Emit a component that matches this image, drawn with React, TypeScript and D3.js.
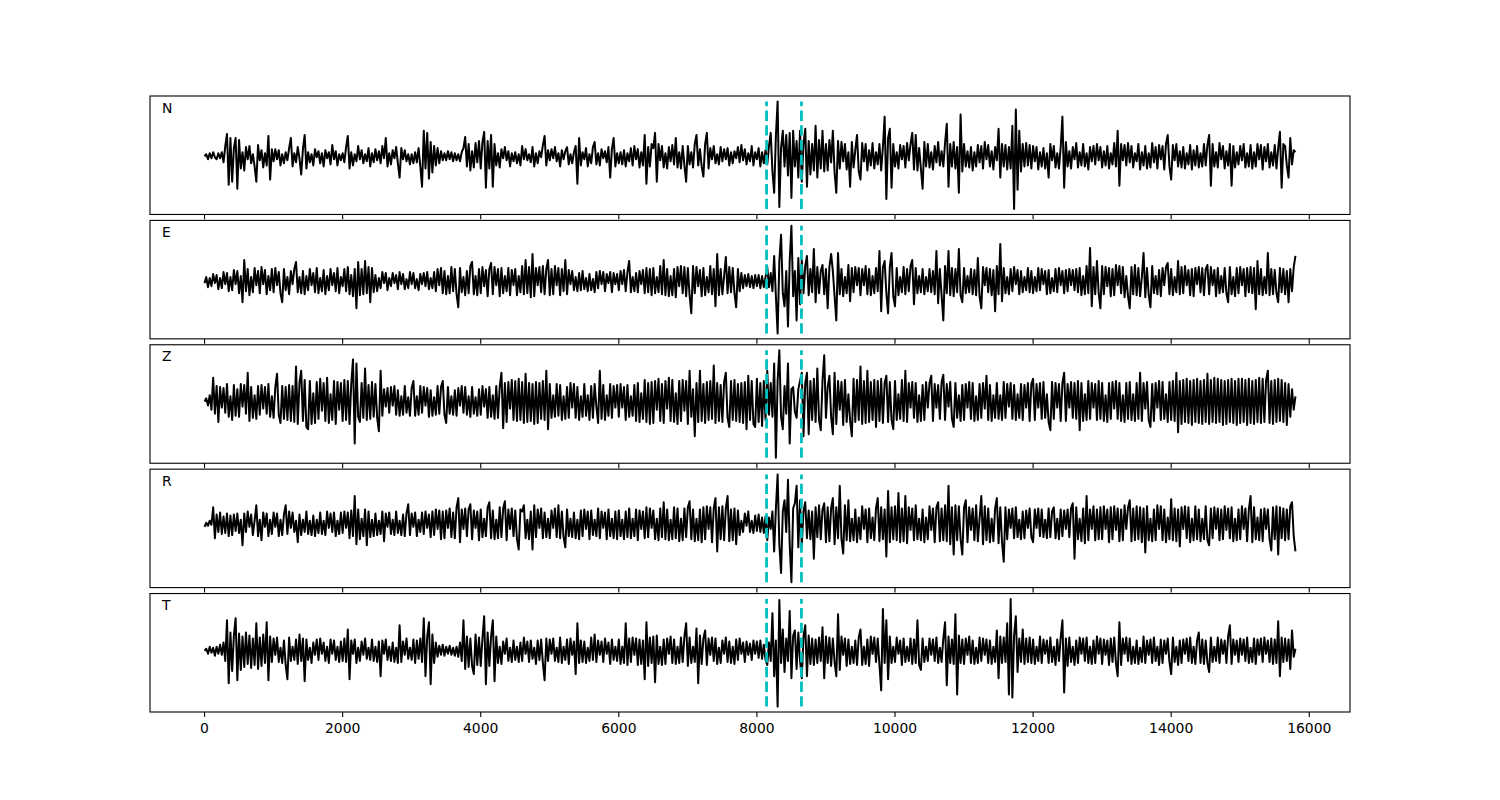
import React from "react";
import * as d3 from "d3";

// three-component seismogram, rotated to R/T as well
const components = ["N", "E", "Z", "R", "T"];
const tEnd = 15800;
const picks = [8140, 8645];
const xTicks = [0, 2000, 4000, 6000, 8000, 10000, 12000, 14000, 16000];

// amplitudes, one sample every 25 units (0 .. 15800)
const traceN = [
  0, 2, -3, 3, -2, 4, -1, -3, 3, -2, 4, -6, 10, 22, -28, 18, -25, 8, 18, -32,
  16, -12, 4, -14, 9, -3, 10, -7, 2, -10, -25, 11, -4, 6, -11, 3, -9, 20, -23, 7,
  -5, 7, -3, 6, -9, 2, -7, 4, -4, 8, 18, -10, 3, -6, 9, -2, -18, 7, 21, -12,
  4, -6, 2, -9, 7, -1, 5, -7, 3, -10, 6, -2, 4, -8, 11, -3, 5, -9, 2, -4,
  3, -6, 9, 20, -12, 4, -9, 2, -5, 10, -3, 6, -7, 2, -5, 8, -10, 3, -6, 7,
  -4, 5, -7, 10, -2, 18, -10, 3, -8, 6, -2, 9, -7, -21, 8, -3, 6, -5, 2, -8,
  2, -7, 4, -6, 8, -10, -30, 25, -12, 23, -22, 14, -16, 10, -9, 8, -7, 5, -4, 3,
  -4, 5, -3, 4, -5, 3, -4, 2, -5, 4, 8, 19, -10, 12, -14, 5, -11, 13, -6, 15,
  -12, 14, 24, -31, 15, -12, 21, -30, 12, -9, 3, -11, 7, -2, 9, -4, 5, -10, 3, -5,
  4, -7, 2, -9, 10, -3, 7, -4, 2, -6, 9, -10, 3, -7, 5, -1, 11, 20, -9, 6,
  -4, 7, -2, 9, -5, 3, -10, 6, -3, 5, 9, -8, 2, -7, 4, 10, -27, 18, -9, 4,
  -3, 8, -10, 2, -7, 9, 14, -8, 3, -9, 7, -2, 5, -6, 9, -21, 7, 18, -10, 3,
  -7, 4, -8, 6, -10, 3, -5, 8, -9, 10, -3, 7, -11, 4, -9, 21, -27, 9, -10, 12,
  8, 23, -25, 12, -4, 10, -11, 3, -12, 9, -5, 11, -8, 18, -11, 4, -12, 10, -9, -25,
  10, -8, 4, -11, 12, 21, -9, 7, -10, -20, 12, 23, -12, 8, -3, 10, -7, 2, -8, 9,
  -5, 7, -3, 8, -9, 4, -7, 5, -2, 9, -6, 11, -4, 7, -8, 3, -5, 10, -9, 4,
  -3, 8, -10, 4, -7, 6, -8, 10, 23, -15, -36, 20, 54, -50, 8, 25, -10, 21, -19, 23,
  -41, 25, -10, 15, -21, 25, -25, 12, 27, -30, 15, -18, 12, -14, 30, -21, 16, -12, 25, -15,
  12, -14, 16, -6, 25, -16, -36, 15, -12, 14, -5, 12, -13, 4, -30, 14, -11, 6, 21, -15,
  -23, 13, -5, 12, -14, 6, -9, 13, -12, 4, -8, 12, -14, 9, 39, -42, 18, 27, -31, 12,
  -10, 4, -12, 11, -3, 10, -11, 13, -4, 12, 23, -13, 21, -14, 8, -12, -32, 14, -10, 12,
  -11, 4, -13, 10, -6, 14, -9, 5, -10, 13, 32, -30, 12, -10, 14, -12, 9, -36, 41, -15,
  12, -10, 5, -11, 9, -14, 4, -10, 11, -6, 10, -12, 14, -3, 11, -10, 5, -13, 9, -4,
  27, -21, 12, -10, 11, -13, 9, -12, 30, -52, 46, -33, 25, -15, 12, -10, 13, -9, 11, -12,
  10, -5, 9, -13, 4, -10, 8, -12, 3, -21, 12, -4, 10, -11, 3, -12, 9, 39, -31, 14,
  -10, 5, -12, 9, -3, 13, -11, 4, -9, 12, -10, 3, -13, 9, -5, 10, -8, 12, -4, 9,
  -11, 5, -9, 10, -12, 3, -8, 13, -10, 25, -29, 12, -4, 11, -9, 13, -6, 10, -11, 3,
  -5, 12, -13, 4, -9, 10, -12, 3, -11, 13, -6, 9, -12, 11, -3, 10, -13, 12, 21, -10,
  -23, 11, -4, 12, -10, 5, -11, 9, -12, 3, -8, 11, -13, 6, -9, 10, -11, 3, -10, 12,
  -9, 11, 21, -29, 12, -10, 4, -11, 13, -3, 10, -12, 5, -9, 12, -29, 10, -11, 4, -8,
  10, -4, 12, -11, 3, -10, 11, -12, 4, -10, 12, -3, 11, -13, 9, -5, 12, -11, 4, -9,
  11, -12, 8, 24, -31, 12, 10, -9, -21, 18, -8, 6, 4,
];

const traceE = [
  -2, 4, -6, 3, -5, 7, -2, 6, -8, 3, -7, 9, -3, 8, -10, 4, -9, 11, -3, 10,
  -12, 5, -21, 21, -10, 12, -14, 4, -11, 13, -4, 10, -12, 14, -3, 11, -13, 5, -9, 12,
  -11, 13, -4, 9, -12, -21, 12, -9, 4, -13, 10, -3, 12, 19, -11, 4, -12, 10, -13, 5,
  -9, 12, -4, 8, -11, 13, -12, 3, -10, 11, -13, 5, -9, 12, -4, 8, -10, 13, -12, 4,
  -5, 12, -10, 14, -13, 6, -15, 12, -27, 19, -14, 12, -13, 20, -12, 14, -21, 13, -11, 6,
  -10, 3, -7, 9, -2, 8, -9, 3, -5, 8, -2, 6, -8, 9, -3, 7, -8, 2, -7, 9,
  -3, 8, -7, 2, -9, 7, -3, 8, -5, 9, -8, 3, -7, 9, -10, 12, -4, 13, -12, 10,
  -13, 5, -12, 14, -10, 12, -13, -26, 13, -11, 4, -14, 10, -12, 15, 19, -13, 5, -14, 12,
  -12, 14, -5, 11, -15, 12, 18, -13, 14, -4, 12, -15, 13, -12, 5, -10, 13, -14, 11, -4,
  12, -14, 5, -11, 15, -13, 21, -12, 14, -16, 27, -15, 13, -4, 14, -11, 15, -13, 12, 21,
  -14, 12, -13, 15, -4, 13, -14, 12, -10, 21, -13, 11, -3, 10, -9, 4, -10, 8, -9, 10,
  -8, 3, -10, 7, -9, 2, -11, 9, -7, 10, -3, 9, -10, 7, -2, 9, -11, 8, -3, 7,
  -9, 10, -3, 11, -10, 9, 20, -11, 4, -10, 8, -11, 10, -3, 11, -12, 13, -11, 12, -14,
  13, -12, 4, -11, 15, -13, 21, -14, 12, -15, 5, -14, 12, -16, 14, -5, 15, -12, 14, -15,
  13, -14, -32, 15, -12, 14, -5, 11, -15, 13, -14, 4, -11, 15, -13, 12, -25, 27, -14, 12,
  -13, 5, 24, -12, 14, -11, 13, -12, -26, 12, -10, 8, -7, 6, -5, 7, -6, 5, -7, 6,
  -5, 6, -7, 5, -6, 4, 14, -6, 8, -10, 25, -15, -52, 20, 46, -12, -25, 10, -45, 20,
  55, -15, 10, -39, 23, -23, 21, -12, 15, 25, -14, 12, -11, 32, -21, 14, -12, 10, 16, -13,
  12, -27, 14, 27, 10, -15, -39, 28, -13, 12, -15, 4, -12, 16, -20, 13, -11, 14, -4, 13,
  -14, 12, -4, 15, -13, 12, -14, 5, -12, 13, -10, 30, -30, 14, 20, -12, -32, 14, 28, -15,
  -25, 13, -14, 4, -11, 14, -13, 12, -10, 15, 21, -23, 13, -12, 5, -11, 12, -13, 4, -10,
  12, -11, 10, -13, 30, -22, 12, -14, -39, 15, -12, 30, -14, 13, -15, 12, -11, 32, -14, -21,
  13, -12, 5, -11, 12, -13, 11, -14, 23, -15, -27, 14, -4, 13, -11, 12, -14, 11, -30, 15,
  -13, 37, -20, 13, -12, 4, -13, 12, -10, 14, -3, 11, -13, 10, -11, 4, -9, 13, -11, 10,
  -12, 4, -10, 13, -9, 12, -3, 10, -13, 11, -12, 3, -10, 12, -11, 13, -4, 10, -12, 11,
  -10, 12, -4, 11, -9, 12, -11, 13, -14, 5, -13, 15, -12, 33, -25, 14, -13, 20, -12, -27,
  15, -13, 14, -5, 13, -15, 12, -14, 16, -4, 15, -12, 14, -16, 5, -15, -27, 14, -13, 16,
  -14, 13, -15, 4, 28, -16, 13, -14, -26, 15, -12, 5, -13, 11, -15, 13, -4, 14, 18, -13,
  12, -14, 4, -11, 20, -13, 14, -12, 15, -4, 11, -14, 12, -15, 13, -3, 14, -11, 13, -14,
  12, 16, -13, 14, -4, 11, -15, 13, -12, 5, -11, 13, -12, -21, 14, -13, 4, -15, 13, -12,
  14, -4, 12, -15, 13, -11, 14, -12, 13, -28, 20, -13, 12, -14, 4, -12, 28, -14, 12, -13,
  11, -12, -21, 13, -11, 12, -13, 10, -21, 12, -10, 14, 25,
];

const traceZ = [
  0, 3, -4, 6, -8, 23, -12, 15, -20, 14, -6, 13, -11, 17, -15, 5, -18, 16, -14, 12,
  -15, 17, -5, 16, -12, 28, -19, 14, -16, 6, -17, 15, -13, 16, -7, 14, -12, 17, -15, 5,
  -16, 14, 27, -13, -21, 15, -17, 14, -18, 16, -19, 15, -20, 34, -22, 18, 30, -19, 21, -25,
  -27, 20, -22, 8, -21, 19, -17, 22, -9, 18, -19, 23, -21, 7, -18, 20, -22, 19, -8, 18,
  -19, 21, -18, 20, -22, 17, 41, -41, 37, -15, -20, 18, -16, 32, -18, 16, -17, 19, -15, 17,
  -16, -29, 30, -14, 12, -5, 13, -11, 14, -4, 15, -13, 11, -14, 5, -13, 15, -11, 4, -14,
  13, 20, -14, 5, -13, 15, -11, 14, -4, 13, -15, 11, -14, 4, -13, 15, -12, 14, 20, -13,
  -21, 14, -12, 5, -13, 11, -14, 13, -4, 15, -11, 14, -13, 5, -15, 14, -12, 4, -14, 12,
  -13, 15, -5, 12, -16, 14, -15, 6, -17, 15, -16, 14, 28, -26, 18, -20, 19, -7, 21, -18,
  20, -19, 22, -18, 19, -21, 27, -20, 18, -19, 17, -22, 19, -21, 18, -17, 20, -18, 30, -27,
  17, -16, 6, -15, 17, -14, 16, -18, 5, -17, 14, -16, 18, -6, 17, -16, 14, -18, 5, -15,
  17, -14, 6, -18, 15, -16, 17, -5, -21, 30, -17, 16, -18, 6, -14, 17, -16, 15, -6, 16,
  -15, 17, -6, 14, -18, 16, -15, 5, -14, 16, -19, 18, -20, 8, -17, 21, -20, 18, -22, 19,
  -21, 20, -8, 22, -19, 17, -21, 20, -7, 23, -19, 21, -20, 8, -22, 20, -19, 21, -9, 20,
  -22, 30, -15, 12, -34, 18, -20, 30, -19, 17, -21, 19, -18, 20, -17, 35, -21, 18, -19, 16,
  -20, 19, 28, -16, -25, 20, -18, 21, -19, 17, -20, 18, -21, 19, -27, 25, -18, 20, -22, -25,
  22, -20, 18, -24, 20, -18, 30, -13, 18, -15, 37, -55, 20, 50, -15, -27, 15, -12, 37, -41,
  12, 14, -10, -16, 12, 20, 28, -34, 18, 28, -32, 20, -18, 22, -20, 32, -18, -28, 20, 45,
  -16, 14, 25, -15, -32, 28, -22, 20, -8, 19, -23, 21, -20, 7, -19, -34, 22, -20, 21, -18,
  34, -22, 20, -21, 30, -20, 19, -18, 21, -25, 20, -19, 22, -21, 18, 25, -20, 19, -18, -27,
  20, -18, 7, -17, 21, -19, 30, -20, 18, -6, 19, -16, 18, -20, 6, -19, 16, -18, 19, -6,
  18, 25, -19, 17, -6, 16, -17, 19, 26, -18, 17, -5, 19, -17, -25, 18, -16, 6, -19, 16,
  -18, 17, -6, 19, -17, 18, -19, 5, -18, 17, -16, 18, -7, 25, -18, 16, -19, 6, -16, 18,
  -17, 6, -18, 19, -16, 17, -5, 18, -17, 16, -18, 7, -16, 17, -18, 16, -6, 18, -19, 17,
  22, -18, 17, -6, 18, -17, 19, -16, 7, -20, -28, 19, -17, 18, -6, 17, -19, 18, 28, -19,
  17, -6, 19, -16, 18, -17, 20, -28, 18, -19, 7, -18, 20, -17, 18, -6, 17, -18, 20, -17,
  18, -19, 6, -20, 18, -17, 19, -7, 20, -17, 18, -19, 6, -20, 18, -17, 19, -18, 7, -19,
  18, -17, 28, -19, 18, -7, 19, -18, -25, 17, -19, 18, -6, 20, -18, 19, -17, 7, -20, 19,
  -18, 20, -19, 28, -30, 20, -22, 21, -20, 22, -21, 20, -23, 21, -20, 22, -21, 20, -22, 21,
  -20, 27, -22, 21, -20, 23, -21, 22, -20, 21, -23, 20, -22, 21, -20, 22, -21, 20, -23, 22,
  -21, 22, -20, 21, -23, 22, -21, 20, -22, 21, -20, 23, -21, 22, -20, 21, 30, -21, 20, -22,
  21, -20, 22, -19, 21, -20, 18, -23, 17, -15, 12, -8, 5,
];

const traceR = [
  -3, 1, -2, 3, -1, 16, -14, 9, -8, 11, -10, 7, -9, 10, -12, 8, -11, 9, -7, 10,
  -9, 4, -21, 10, -8, 12, -3, 9, -11, 3, 18, -12, 4, -16, 11, -3, 10, -12, 4, -10,
  11, -3, 10, -12, 4, -11, 9, 18, -10, 12, -4, 11, -8, 3, -18, 9, -11, 4, -8, 12,
  -10, 3, -11, 8, -12, 4, -9, 11, -10, 3, -11, 12, -4, 10, -8, 11, -12, 3, -10, 11,
  -9, 12, -4, 11, -14, 13, -12, 27, -20, 14, -15, 5, -12, 14, -21, 12, -13, 4, -12, 10,
  -11, 3, -10, 12, -17, 10, -3, 11, -10, 4, -11, 12, -9, 3, -11, 9, -12, 10, 19, -11,
  10, -3, 11, -12, 4, -8, 11, -10, 12, -4, 9, -13, 12, -11, 14, -5, 13, -15, 12, -14,
  13, -4, 15, -13, 11, -14, 16, 25, -18, 14, -5, 15, -12, 14, 19, -15, 13, -4, 12, -16,
  14, -13, 5, -12, 16, 21, -14, 13, -15, 4, -14, 16, -13, 15, 22, -16, 14, -5, 15, -12,
  13, -15, -25, 14, 12, 18, -14, 4, -15, 12, -25, 18, -13, 14, -4, 15, -14, 11, -13, 5,
  -14, 13, -4, 15, -13, 18, -14, 12, -13, -23, 14, -12, 5, -13, 11, -14, 4, -15, 13, -12,
  14, -5, 12, -15, 13, -11, 4, -12, 15, -14, 12, -4, 11, -15, 14, -12, 5, -14, 12, -15,
  13, -12, 4, -15, 12, -13, 15, -14, 5, -12, 14, -16, 13, -5, 12, -14, 16, -13, 15, -4,
  13, -15, 5, -16, 15, -13, 21, -15, 14, -16, 4, -15, 16, -14, 15, -17, 5, -16, 15, -13,
  16, 22, -15, 14, -17, 5, -16, 14, -18, 16, -15, 17, -5, 16, -18, 15, 25, -27, 16, -15,
  17, -16, 15, 27, -17, 14, -16, 15, -20, 13, -11, 3, -8, 10, -2, 12, -8, 3, -9, 8,
  -7, 9, -8, 6, -9, 7, -16, 6, -5, 12, -27, 15, 48, -20, -48, 12, 23, -8, 43, -20,
  -57, 15, 20, 37, -23, 23, -21, 12, 21, -14, 13, -15, 12, -34, 16, -13, 18, -15, 14, 20,
  -18, 16, -17, 15, 25, -20, 16, -14, 37, -15, -29, 18, -16, 23, -17, 5, -16, 14, -18, 6,
  -15, 17, -5, 14, -18, 15, -14, 6, -16, 15, 25, -17, 16, -15, 14, -32, 32, -18, 16, -15,
  17, -16, 30, -18, 15, -17, 27, -19, 16, -6, 15, -16, 18, -15, 5, -16, 14, -18, 6, -15,
  17, -6, 15, -18, 16, 21, -17, 15, -16, 18, -17, 37, -20, 16, -30, 18, -16, 17, -15, -30,
  16, 23, -18, 16, -6, 15, -16, 18, -17, 5, 27, -20, 17, -16, 15, -18, 5, -17, 15, 25,
  -19, 16, -18, -37, 16, -15, 14, -4, 15, -14, 16, -13, 4, -15, 12, -14, 13, -4, 15, -13,
  -18, 14, -4, 15, -12, 14, -13, 4, -14, 15, -13, 12, 16, -14, 5, -15, 14, -12, 13, -5,
  14, -13, 15, 20, -34, 16, -15, 5, -17, 15, -19, 27, -16, 14, -5, 17, -16, 14, -15, 16,
  -15, 17, -5, 14, -18, 16, -15, 17, -6, 15, -17, 14, -16, 18, -5, 16, 23, -17, 15, -16,
  17, -15, 16, -18, 15, -28, 17, -16, 5, -17, 14, -16, 18, -5, 17, -16, 14, -18, 6, -15,
  24, -16, 15, -17, 14, -22, 16, -5, 17, -14, 16, -18, 5, -16, 17, -15, 14, -17, 5, -15,
  17, -16, -21, 15, -14, 16, -5, 15, -16, 14, -15, 17, -6, 15, -14, 16, -17, 5, -16, 14,
  -15, 17, -5, 15, -17, 14, 27, -18, 16, -15, 6, -16, 14, -17, 15, -5, 14, -15, -26, 16,
  -15, 17, -30, 16, -14, 15, -16, 14, -15, 17, 21, -12, -27,
];

const traceT = [
  0, 2, -3, 4, -2, 3, -5, 4, -3, 6, -4, 8, -10, 30, -32, 18, -20, 15, 32, -29,
  17, -19, 14, -16, 18, -13, 15, -17, 12, -14, 27, -18, 13, -15, 16, -12, 28, -29, 14, -11,
  12, -4, 13, -11, 3, -12, 10, -14, -28, 13, -10, 4, -9, 11, -13, 16, -10, 12, -30, 11,
  -9, 3, -12, 8, -4, 11, -9, 12, -3, 8, -10, 4, -12, 11, -3, 10, -9, 4, -11, 9,
  -10, 12, -11, 21, -28, 10, -3, 11, -12, 3, -10, 9, -4, 12, -8, 3, -9, 11, -10, 4,
  -11, 9, -25, 10, -3, 11, -9, 4, -10, 8, -11, 3, -12, 25, -11, 9, -4, 12, -8, 3,
  -9, 11, -12, 10, -8, 12, -11, 32, -25, 14, 28, -33, 16, -12, 8, -6, 5, -4, 6, -5,
  4, -3, 5, -4, 3, -5, 4, -6, 8, -10, 30, -18, 14, -16, 12, -15, -23, 16, -14, 13,
  -15, 12, 34, -33, 18, -15, 14, 30, -30, 14, -12, 4, -13, 9, -3, 12, -10, 3, -11, 10,
  -9, 4, -11, 8, -10, 13, -3, 9, -11, 10, -8, 3, -13, 10, -9, 11, -12, -29, 12, -10,
  11, -3, 12, -10, 3, -11, 13, -12, 4, -9, 11, -13, 12, -4, 9, -23, 27, -12, 10, -11,
  9, -12, 3, -10, 13, -9, 16, -11, 10, -4, 9, -11, 12, -3, 8, -13, 11, -9, 4, -10,
  11, -13, 4, -12, 27, -14, 12, -11, 13, -4, 12, -14, 11, -13, 10, -28, 28, -15, 13, -12,
  14, -31, 15, -13, 4, -14, 11, -13, 12, -3, 14, -12, 11, -13, 4, -12, 13, -11, 14, 27,
  -15, 13, -12, 4, -11, 22, -32, 15, -13, 12, 20, -14, 12, -4, 13, -10, 12, -13, 3, -12,
  10, -3, 13, -11, 9, -12, 4, -13, 11, -9, 12, -3, 8, -11, 9, -4, 7, -9, 10, -3,
  9, -7, 10, -8, 6, -9, -14, 8, -10, 37, -25, 10, -55, 50, -12, 21, -21, 12, -10, 39,
  -27, 15, 20, -18, 18, -10, -27, 14, 25, -25, 15, -13, 12, -14, 11, -12, 13, -10, 23, -27,
  14, -12, 13, -15, 12, -11, -25, 36, -19, 14, -4, 12, -15, 11, -13, 4, -12, 10, -14, 13,
  21, -14, 4, -13, 11, -15, 14, -3, 13, -11, 12, -14, -39, 41, -12, 30, -28, 14, -12, 4,
  -11, 13, -3, 10, -14, 12, -11, 4, -10, 12, -13, 11, -12, 30, -14, -19, 12, -11, 4, -10,
  12, -4, 11, -10, 13, -12, 3, -11, 12, 28, -34, 14, -12, 11, -13, 36, -43, 15, -12, 11,
  -13, 12, -4, 14, -12, 10, -13, 3, -12, 13, -10, 12, -4, 11, -12, 10, -13, 4, -11, 20,
  -27, 14, -12, 13, -11, 27, -43, 51, -46, 15, 34, -21, 12, -11, 21, -13, 12, -11, 13, -12,
  11, -13, 4, -10, 14, -12, 11, -3, 10, -12, 13, -11, 4, -14, 11, -10, 13, 30, -41, 12,
  -15, 13, -11, 4, -14, 10, -12, 13, -3, 12, -10, 13, -12, 4, -13, 10, -12, 14, -3, 12,
  -13, 11, -4, 10, -14, 12, -11, 13, -12, -25, 28, -14, 12, -3, 13, -10, 12, -13, 4, -12,
  10, -13, 3, -11, 14, -12, 10, -4, 11, -12, 13, -10, 4, -14, 11, -12, 10, -3, 12, -11,
  -23, 13, -11, 4, -14, 10, -12, 11, -3, 12, -10, 13, -12, 4, -13, 10, 18, -12, 11, -13,
  10, -12, -21, 13, -11, 4, -10, 13, -12, 11, -3, 10, -12, 14, 25, -13, 11, -4, 10, -11,
  12, -4, 11, -10, 13, -12, 3, -11, 12, -13, 11, -4, 12, -11, 13, -3, 10, -11, 12, -13,
  11, -12, 29, -25, 13, -11, 12, -10, 11, -18, 20, -6, 2,
];

const traces = [traceN, traceE, traceZ, traceR, traceT];

const W = 1500;
const H = 800;
const left = 150;
const right = 1350;
const top = 96;
const bottom = 712;
const hspace = 0.05;
const panelH = (bottom - top) / (traces.length + (traces.length - 1) * hspace);
const gap = panelH * hspace;
const font = "DejaVu Sans, sans-serif";

export default function App() {
  const pad = tEnd * 0.05;
  const x = d3.scaleLinear().domain([-pad, tEnd + pad]).range([left, right]);

  return (
    <svg width={W} height={H} style={{ position: "absolute", left: 0, top: 0, background: "#fff" }}>
      {traces.map((tr, k) => {
        const y0 = top + k * (panelH + gap);
        const y1 = y0 + panelH;
        const step = tEnd / (tr.length - 1);
        const [lo, hi] = d3.extent(tr) as [number, number];
        const m = (hi - lo) * 0.05;
        const y = d3.scaleLinear().domain([lo - m, hi + m]).range([y1, y0]);
        const line = d3.line<number>().x((_, i) => x(i * step)).y(d => y(d));
        return (
          <g key={components[k]}>
            <path d={line(tr) ?? ""} fill="none" stroke="#000" strokeWidth={2} strokeLinejoin="round" />
            {picks.map(p => (
              <line key={p} x1={x(p)} x2={x(p)} y1={y(lo)} y2={y(hi)}
                stroke="#00bfbf" strokeWidth={2.8} strokeDasharray="10.3 4.4" />
            ))}
            <rect x={left} y={y0} width={right - left} height={panelH} fill="none" stroke="#000" strokeWidth={1.1} />
            {xTicks.map(t => (
              <line key={t} x1={x(t)} x2={x(t)} y1={y1} y2={y1 + 4.9} stroke="#000" strokeWidth={1.1} />
            ))}
            <text x={162} y={y0 + 16.5} fontFamily={font} fontSize={13.9} fill="#000">{components[k]}</text>
          </g>
        );
      })}
      {xTicks.map(t => (
        <text key={t} x={x(t)} y={bottom + 21} textAnchor="middle" fontFamily={font} fontSize={13.9} fill="#000">
          {t}
        </text>
      ))}
    </svg>
  );
}
